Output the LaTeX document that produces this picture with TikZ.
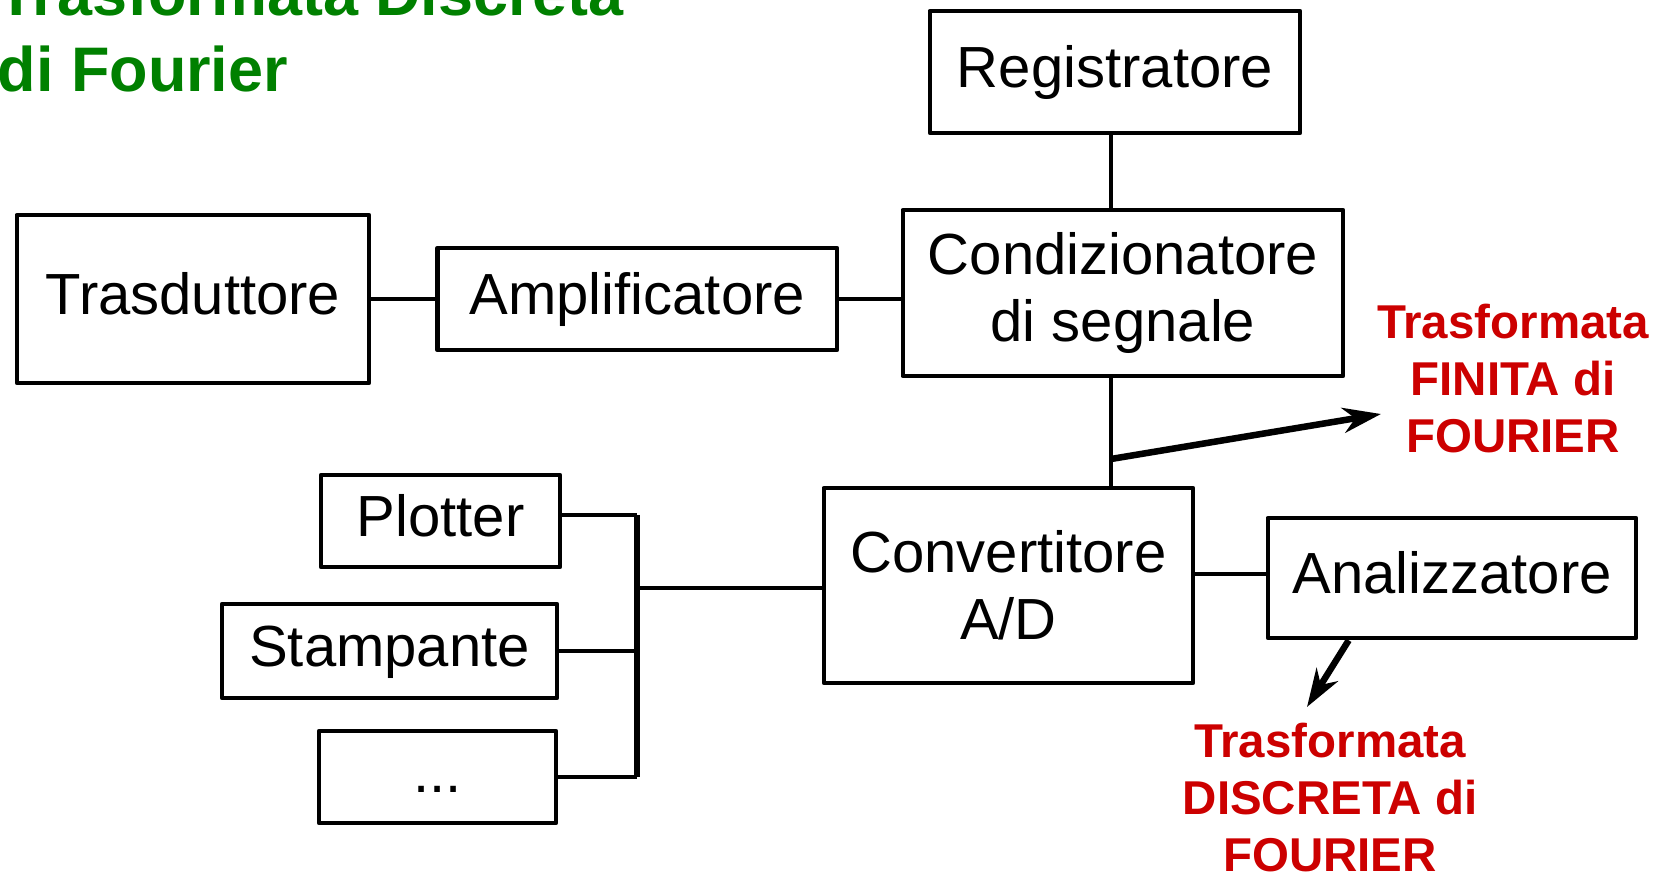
\documentclass[tikz,border=0pt]{standalone}
\usepackage{fontspec}
\setmainfont{Liberation Sans}
\usepackage{tikz}
\usetikzlibrary{arrows.meta, positioning}

\definecolor{titlegreen}{RGB}{0,128,0}
\definecolor{notered}{RGB}{204,0,0}

\begin{document}
\begin{tikzpicture}[x=0.01cm, y=-0.01cm,
                block/.style={draw, line width=0.045cm, line join=round, inner sep=0pt,
                              align=center, font=\fontsize{16.5}{19}\selectfont},
                single/.style={block, text height=0.42cm, text depth=0.12cm},
                wire/.style={line width=0.045cm},
                bus/.style={line width=0.055cm},
                fourier/.style={-{Stealth[length=0.38cm, width=0.25cm, inset=0.12cm]},
                                line width=0.065cm},
                note/.style={text=notered, align=center, inner sep=0pt,
                             font=\bfseries\fontsize{13.5}{16.2}\selectfont}]

                \useasboundingbox (0,0) rectangle (1665,876);
                \clip (0,0) rectangle (1665,876);

                % Title - top left
                \node[text=titlegreen, align=left, inner sep=0pt, anchor=south west,
                      font=\bfseries\fontsize{17.9}{21.8}\selectfont] (title) at (-3,93)
                      {Trasformata Discreta\\di Fourier};

                % Measuring chain - upper row
                \node[single, minimum width=3.52cm, minimum height=1.68cm] (trasd) at (193,299) {Trasduttore};
                \node[single, minimum width=3.99cm, minimum height=1.02cm, right=0.64cm of trasd] (ampl) {Amplificatore};
                \node[block, minimum width=4.40cm, minimum height=1.66cm] (cond) at (1123,293) {Condizionatore\\di segnale};
                \node[single, minimum width=3.70cm, minimum height=1.22cm] (reg) at (1115,72) {Registratore};

                % Conversion and analysis - lower row
                \node[block, minimum width=3.69cm, minimum height=1.95cm] (conv) at (1008.5,585.5) {Convertitore\\A/D};
                \node[single, minimum width=3.68cm, minimum height=1.20cm] (anal) at (1452,578) {Analizzatore};

                % Output devices - left
                \node[single, minimum width=2.39cm, minimum height=0.92cm] (plot) at (440.5,521) {Plotter};
                \node[single, minimum width=3.35cm, minimum height=0.94cm] (stamp) at (389.5,651) {Stampante};
                \node[single, minimum width=2.37cm, minimum height=0.92cm] (more) at (437.5,777) {...};

                % Red notes
                \node[note, anchor=south] (finita) at (1513,454) {Trasformata\\FINITA di\\FOURIER};
                \node[note, anchor=south] (discreta) at (1330,873) {Trasformata\\DISCRETA di\\FOURIER};
                \coordinate (fintip) at (1381,414);
                \coordinate (disctip) at (1307,707);
                \coordinate (tap) at (1111,459);
                \coordinate (bus) at (637,588);

                % Connections
                \draw[wire] (trasd.east |- ampl) -- (ampl.west);
                \draw[wire] (ampl.east) -- (ampl.east -| cond.west);
                \draw[wire] (reg.south -| tap) -- (cond.north -| tap);
                \draw[wire] (cond.south -| tap) -- (conv.north -| tap);
                \draw[wire] ([yshift=0.04cm]anal.west -| conv.east) -- ([yshift=0.04cm]anal.west);
                \draw[wire] (conv.west |- bus) -- (bus);

                % Bus to the output devices
                \draw[wire] ([yshift=0.06cm]plot.east) -- ([yshift=0.06cm]plot.east -| bus);
                \draw[wire] (stamp.east) -- (stamp.east -| bus);
                \draw[wire] (more.east) -- (more.east -| bus);
                \draw[bus] ([yshift=0.06cm]plot.east -| bus) -- (more.east -| bus);

                % Arrows to the transforms
                \draw[fourier] (tap) -- (fintip);
                \draw[fourier] ([xshift=0.83cm]anal.south west) -- (disctip);
            \end{tikzpicture}
\end{document}
